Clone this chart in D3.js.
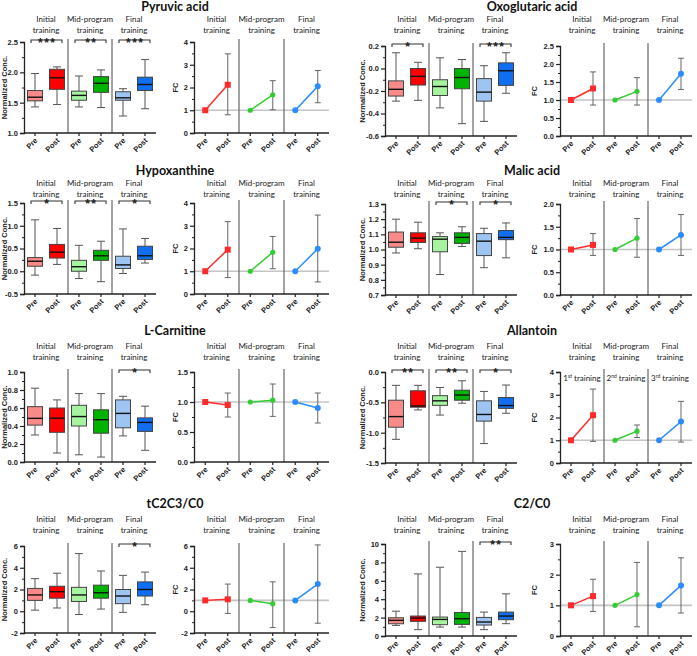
<!DOCTYPE html>
<html>
<head>
<meta charset="utf-8">
<script src="https://cdn.jsdelivr.net/npm/d3@7"></script>
<style>
body { margin: 0; background: #fff; }
svg { display: block; }
.title { font-family: Lato, "Open Sans", sans-serif; font-weight: bold; font-size: 12.5px; fill: #111; }
.grp { font-family: Lato, "Open Sans", sans-serif; font-size: 8px; fill: #222; }
.tick text { font-family: "Liberation Sans", Arial, sans-serif; font-weight: bold; font-size: 7.5px; fill: #222; }
.xlab { font-family: "Liberation Sans", Arial, sans-serif; font-weight: bold; font-size: 7.5px; fill: #222; }
.ylab { font-family: "Liberation Sans", Arial, sans-serif; font-weight: bold; font-size: 7.5px; fill: #222; }
.star { font-family: "Liberation Sans", Arial, sans-serif; font-weight: bold; font-size: 12px; fill: #222; letter-spacing: 1.5px; }
</style>
</head>
<body>
<script>
const groupLines = [["Initial", "training"], ["Mid-program", "training"], ["Final", "training"]];
const phases = ["Pre", "Post", "Pre", "Post", "Pre", "Post"];
const boxFill = ["#f98a8a", "#ff0000", "#a6f4a0", "#00b300", "#9ec4f2", "#0f6ff0"];
const lineColors = ["#ff2a2a", "#33cc33", "#2a8cff"];

// box stats per box: [min, q1, median, q3, max]
// fc per training: [post mean, error low, error high]
const pyruvicBox = [[1.43, 1.53, 1.59, 1.70, 1.98], [1.47, 1.72, 1.91, 2.05, 2.09],
                    [1.43, 1.54, 1.62, 1.69, 1.94], [1.42, 1.67, 1.82, 1.93, 2.04],
                    [1.28, 1.54, 1.58, 1.68, 1.73], [1.40, 1.70, 1.80, 1.92, 2.21]];
const pyruvicFC = [[2.12, 0.80, 3.48], [1.68, 1.02, 2.30], [2.05, 1.33, 2.75]];
const pyruvicSig = ["***", "**", "***"];

const oxoBox = [[-0.29, -0.245, -0.185, -0.11, 0.14], [-0.283, -0.147, -0.07, 0.0, 0.055],
                [-0.35, -0.24, -0.16, -0.10, 0.095], [-0.49, -0.18, -0.08, 0.0, 0.08],
                [-0.47, -0.29, -0.21, -0.09, 0.025], [-0.22, -0.15, -0.02, 0.05, 0.14]];
const oxoFC = [[1.32, 0.86, 1.78], [1.24, 0.86, 1.62], [1.73, 1.29, 2.16]];
const oxoSig = ["*", "", "***"];

const hypoBox = [[-0.085, 0.11, 0.22, 0.30, 1.13], [0.15, 0.29, 0.42, 0.59, 0.94],
                 [-0.16, 0.0, 0.10, 0.24, 0.57], [-0.23, 0.24, 0.34, 0.46, 0.66],
                 [-0.05, 0.06, 0.14, 0.33, 0.93], [0.18, 0.26, 0.34, 0.55, 0.72]];
const hypoFC = [[1.95, 0.72, 3.18], [1.83, 1.11, 2.53], [1.99, 0.53, 3.47]];
const hypoSig = ["*", "**", "*"];

const malicBox = [[0.977, 1.015, 1.048, 1.115, 1.20], [1.005, 1.046, 1.075, 1.11, 1.18],
                  [0.835, 0.985, 1.068, 1.085, 1.11], [1.02, 1.04, 1.08, 1.11, 1.15],
                  [0.88, 0.96, 1.055, 1.105, 1.14], [0.945, 1.065, 1.08, 1.125, 1.175]];
const malicFC = [[1.10, 0.87, 1.35], [1.25, 0.83, 1.68], [1.32, 0.87, 1.77]];
const malicSig = ["", "*", "*"];

const carnBox = [[0.30, 0.41, 0.485, 0.615, 0.82], [0.10, 0.33, 0.487, 0.60, 0.69],
                 [0.08, 0.40, 0.505, 0.63, 0.76], [0.055, 0.32, 0.47, 0.58, 0.76],
                 [0.29, 0.38, 0.54, 0.69, 0.73], [0.13, 0.34, 0.44, 0.49, 0.62]];
const carnFC = [[0.95, 0.75, 1.15], [1.03, 0.76, 1.30], [0.90, 0.65, 1.15]];
const carnSig = ["", "", "*"];

const allanBox = [[-1.11, -0.91, -0.735, -0.465, -0.22], [-0.625, -0.58, -0.56, -0.31, -0.22],
                  [-0.71, -0.55, -0.475, -0.39, -0.255], [-0.515, -0.465, -0.38, -0.30, -0.145],
                  [-1.18, -0.81, -0.70, -0.475, -0.32], [-0.68, -0.60, -0.553, -0.42, -0.215]];
const allanFC = [[2.10, 0.95, 3.25], [1.40, 1.12, 1.67], [1.82, 0.92, 2.71]];
const allanSig = ["**", "**", "*"];
const allanSub = [["1", "st"], ["2", "nd"], ["3", "rd"]];

const tc2Box = [[0.1, 1.0, 1.5, 2.1, 3.0], [0.3, 1.2, 1.8, 2.3, 3.5],
                [-0.3, 0.9, 1.5, 2.2, 5.3], [0.2, 1.2, 1.7, 2.4, 3.7],
                [-0.1, 0.7, 1.4, 2.0, 3.3], [0.6, 1.4, 2.0, 2.7, 3.6]];
const tc2FC = [[1.1, -0.2, 2.5], [0.7, -1.5, 2.7], [2.5, -1.1, 6.1]];
const tc2Sig = ["", "", "*"];

const c2Box = [[1.15, 1.33, 1.7, 1.98, 2.7], [0.69, 1.59, 1.95, 2.17, 6.75],
               [0.97, 1.23, 1.8, 2.06, 7.47], [0.97, 1.26, 1.88, 2.56, 9.2],
               [0.69, 1.19, 1.52, 2.02, 2.6], [1.34, 1.77, 2.17, 2.6, 4.58]];
const c2FC = [[1.30, 0.80, 1.85], [1.35, 0.30, 2.40], [1.65, 0.75, 2.55]];
const c2Sig = ["", "", "**"];

const metabolites = [
  { name: "Pyruvic acid", box: pyruvicBox, fc: pyruvicFC, sig: pyruvicSig, bDom: [1, 2.5], bStep: 0.5, bFmt: ".1f", fDom: [0, 4], fStep: 1, fFmt: "d" },
  { name: "Oxoglutaric acid", box: oxoBox, fc: oxoFC, sig: oxoSig, bDom: [-0.6, 0.2], bStep: 0.2, bFmt: ".1f", fDom: [0, 2.5], fStep: 0.5, fFmt: ".1f" },
  { name: "Hypoxanthine", box: hypoBox, fc: hypoFC, sig: hypoSig, bDom: [-0.5, 1.5], bStep: 0.5, bFmt: ".1f", fDom: [0, 4], fStep: 1, fFmt: "d" },
  { name: "Malic acid", box: malicBox, fc: malicFC, sig: malicSig, bDom: [0.7, 1.3], bStep: 0.1, bFmt: ".1f", fDom: [0, 2], fStep: 0.5, fFmt: ".1f" },
  { name: "L-Carnitine", box: carnBox, fc: carnFC, sig: carnSig, bDom: [0, 1], bStep: 0.2, bFmt: ".1f", fDom: [0, 1.5], fStep: 0.5, fFmt: ".1f" },
  { name: "Allantoin", box: allanBox, fc: allanFC, sig: allanSig, bDom: [-1.5, 0], bStep: 0.5, bFmt: ".1f", fDom: [0, 4], fStep: 1, fFmt: "d", sub: allanSub },
  { name: "tC2C3/C0", box: tc2Box, fc: tc2FC, sig: tc2Sig, bDom: [-2, 6], bStep: 2, bFmt: "d", fDom: [-2, 6], fStep: 2, fFmt: "d" },
  { name: "C2/C0", box: c2Box, fc: c2FC, sig: c2Sig, bDom: [0, 10], bStep: 2, bFmt: "d", fDom: [0, 3], fStep: 1, fFmt: "d" }
];

// layout
const rowTop = [[42, 46], [203, 204], [372, 372], [546, 544]];
const rowBottom = [[133, 136], [294, 295], [462, 463], [633, 636]];
const titleY = [10.5, 175, 335, 508];
const labelY = [22, 186, 349, 522];
const axisColor = "#222";

const svg = d3.select("body").append("svg")
  .attr("width", 697)
  .attr("height", 656);

function fmt(f) {
  const base = d3.format(f);
  return v => base(v).replace("\u2212", "-");
}

function yAxis(g, y, dom, step, f, x0) {
  const ticks = d3.range(dom[0], dom[1] + step / 2, step).map(v => +v.toFixed(4));
  const minor = ticks.slice(0, -1).map(v => +(v + step / 2).toFixed(4));
  const ax = g.append("g").attr("transform", "translate(" + x0 + ",0)")
    .call(d3.axisLeft(y).tickValues(ticks).tickFormat(fmt(f)).tickSize(4).tickPadding(2));
  ax.select(".domain").attr("stroke", axisColor).attr("stroke-width", 1.3);
  ax.selectAll(".tick line").attr("stroke", axisColor).attr("stroke-width", 1.2);
  const mi = g.append("g").attr("transform", "translate(" + x0 + ",0)")
    .call(d3.axisLeft(y).tickValues(minor).tickFormat("").tickSize(2));
  mi.select(".domain").remove();
  mi.selectAll(".tick line").attr("stroke", axisColor);
}

function xAxis(g, x, x0, x1, bottom) {
  g.append("line").attr("x1", x0).attr("x2", x1).attr("y1", bottom).attr("y2", bottom)
    .attr("stroke", axisColor).attr("stroke-width", 1.3);
  d3.range(6).forEach(i => {
    g.append("line").attr("x1", x(i)).attr("x2", x(i)).attr("y1", bottom).attr("y2", bottom + 3)
      .attr("stroke", axisColor).attr("stroke-width", 1.2);
    g.append("text").attr("class", "xlab")
      .attr("transform", "translate(" + (x(i) + 3) + "," + (bottom + 8) + ") rotate(-45)")
      .attr("text-anchor", "end")
      .text(phases[i]);
  });
}

function groupLabels(g, x0, x1, row) {
  const w = (x1 - x0) / 3;
  groupLines.forEach((lines, k) => {
    lines.forEach((t, j) => {
      g.append("text").attr("class", "grp")
        .attr("x", x0 + w * (k + 0.5)).attr("y", labelY[row] + j * 10.5)
        .attr("text-anchor", "middle").text(t);
    });
  });
}

function dividers(g, x0, x1, top, bottom) {
  const w = (x1 - x0) / 3;
  [1, 2].forEach(k => {
    g.append("line").attr("x1", x0 + w * k).attr("x2", x0 + w * k)
      .attr("y1", top - 3).attr("y2", bottom)
      .attr("stroke", "#666").attr("stroke-width", 1.2);
  });
}

function boxPanel(m, x0, x1, top, bottom, row, col) {
  const g = svg.append("g");
  const x = d3.scalePoint().domain(d3.range(6)).range([x0, x1]).padding(0.5);
  const y = d3.scaleLinear().domain(m.bDom).range([bottom, top]);
  const bw = 15, cw = 8;

  groupLabels(g, x0, x1, row);
  dividers(g, x0, x1, top, bottom);

  m.box.forEach((b, i) => {
    const cx = x(i);
    const wc = "#555";
    g.append("line").attr("x1", cx).attr("x2", cx).attr("y1", y(b[4])).attr("y2", y(b[3])).attr("stroke", wc);
    g.append("line").attr("x1", cx).attr("x2", cx).attr("y1", y(b[1])).attr("y2", y(b[0])).attr("stroke", wc);
    g.append("line").attr("x1", cx - cw / 2).attr("x2", cx + cw / 2).attr("y1", y(b[4])).attr("y2", y(b[4])).attr("stroke", wc);
    g.append("line").attr("x1", cx - cw / 2).attr("x2", cx + cw / 2).attr("y1", y(b[0])).attr("y2", y(b[0])).attr("stroke", wc);
    g.append("rect").attr("x", cx - bw / 2).attr("width", bw)
      .attr("y", y(b[3])).attr("height", y(b[1]) - y(b[3]))
      .attr("fill", boxFill[i]).attr("stroke", "#444").attr("stroke-width", 1);
    g.append("line").attr("x1", cx - bw / 2).attr("x2", cx + bw / 2).attr("y1", y(b[2])).attr("y2", y(b[2]))
      .attr("stroke", "#111").attr("stroke-width", 1.4);
  });

  m.sig.forEach((s, k) => {
    if (!s) return;
    const a = x(2 * k) - 4, b = x(2 * k + 1) + 5, by = top - 2;
    g.append("path").attr("d", "M" + a + "," + (by + 3) + "V" + by + "H" + b + "V" + (by + 3))
      .attr("fill", "none").attr("stroke", "#333").attr("stroke-width", 1.1);
    g.append("text").attr("class", "star").attr("x", (a + b) / 2 + 0.8).attr("y", by + 7)
      .attr("text-anchor", "middle").text(s);
  });

  yAxis(g, y, m.bDom, m.bStep, m.bFmt, x0);
  xAxis(g, x, x0, x1, bottom);

  g.append("text").attr("class", "ylab")
    .attr("transform", "translate(" + (col ? 365 : 7) + "," + (top + bottom) / 2 + ") rotate(-90)")
    .attr("text-anchor", "middle").text("Normalized Conc.");
}

function fcPanel(m, x0, x1, top, bottom, row, col) {
  const g = svg.append("g");
  const x = d3.scalePoint().domain(d3.range(6)).range([x0, x1]).padding(0.5);
  const y = d3.scaleLinear().domain(m.fDom).range([bottom, top]);

  groupLabels(g, x0, x1, row);

  g.append("line").attr("x1", x0).attr("x2", x1).attr("y1", y(1)).attr("y2", y(1))
    .attr("stroke", "#c4c4c4").attr("stroke-width", 1.6);
  dividers(g, x0, x1, top, bottom);

  if (m.sub) {
    const w = (x1 - x0) / 3;
    m.sub.forEach((s, k) => {
      const t = g.append("text").attr("class", "grp").attr("font-size", "7.3px")
        .attr("x", x0 + w * (k + 0.5)).attr("y", top + 9).attr("text-anchor", "middle");
      t.append("tspan").text(s[0]);
      t.append("tspan").attr("font-size", "5px").attr("dy", -3).text(s[1]);
      t.append("tspan").attr("dy", 3).text(" training");
    });
  }

  m.fc.forEach((f, k) => {
    const xp = x(2 * k), xq = x(2 * k + 1);
    g.append("line").attr("x1", xq).attr("x2", xq).attr("y1", y(f[1])).attr("y2", y(f[2]))
      .attr("stroke", "#666").attr("stroke-width", 1);
    [f[1], f[2]].forEach(v => {
      g.append("line").attr("x1", xq - 3).attr("x2", xq + 3).attr("y1", y(v)).attr("y2", y(v))
        .attr("stroke", "#666").attr("stroke-width", 1);
    });
    g.append("line").attr("x1", xp).attr("x2", xq).attr("y1", y(1)).attr("y2", y(f[0]))
      .attr("stroke", lineColors[k]).attr("stroke-width", 1.5);
    [[xp, 1], [xq, f[0]]].forEach(p => {
      if (k === 0) {
        g.append("rect").attr("x", p[0] - 3).attr("y", y(p[1]) - 3).attr("width", 6).attr("height", 6)
          .attr("fill", lineColors[k]);
      } else {
        g.append("circle").attr("cx", p[0]).attr("cy", y(p[1])).attr("r", k === 1 ? 2.6 : 3)
          .attr("fill", lineColors[k]);
      }
    });
  });

  yAxis(g, y, m.fDom, m.fStep, m.fFmt, x0);
  xAxis(g, x, x0, x1, bottom);

  g.append("text").attr("class", "ylab").attr("font-size", "9px")
    .attr("transform", "translate(" + (col ? 537 : 178) + "," + (top + bottom) / 2 + ") rotate(-90)")
    .attr("text-anchor", "middle").text("FC");
}

metabolites.forEach((m, i) => {
  const row = Math.floor(i / 2), col = i % 2;
  const top = rowTop[row][col], bottom = rowBottom[row][col];
  const bx = col ? [385, 517] : [24, 156];
  const fx = col ? [560, 692] : [194, 329];

  svg.append("text").attr("class", "title")
    .attr("x", col ? 532 : 175).attr("y", titleY[row])
    .attr("text-anchor", "middle").text(m.name);

  boxPanel(m, bx[0], bx[1], top, bottom, row, col);
  fcPanel(m, fx[0], fx[1], top, bottom, row, col);
});
</script>
</body>
</html>
